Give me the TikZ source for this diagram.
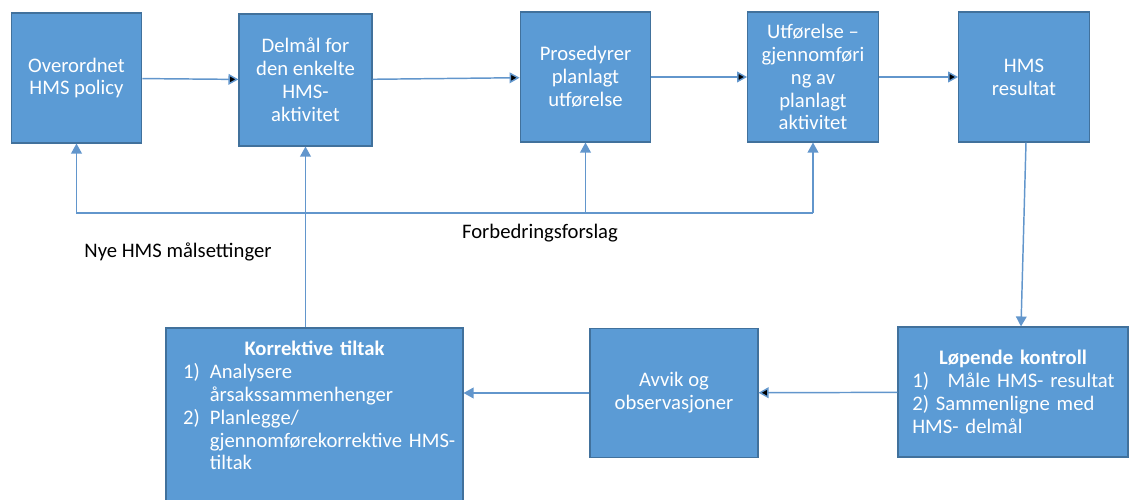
\documentclass[tikz,border=0pt]{standalone}
\usepackage{fontspec}
\setmainfont{Carlito}
\usetikzlibrary{arrows.meta,positioning}
\definecolor{boxfill}{HTML}{5B9BD5}
\definecolor{boxline}{HTML}{41719C}
\definecolor{linkcol}{HTML}{6296CC}

\begin{document}
\begin{tikzpicture}[x=0.75pt,y=-0.75pt,
	box/.style={draw=boxline,line width=0.8pt,fill=boxfill,text=white,align=center,inner sep=2pt,font=\fontsize{15.5}{17.2}\selectfont},
	topbox/.style={box,minimum width=98pt,minimum height=97.5pt},
	arr/.style={draw=linkcol,line width=1.1pt,-{Triangle[length=7.5pt,width=8pt]}},
	lbl/.style={font=\fontsize{15.5}{17.2}\selectfont}]
	\useasboundingbox (0,0) rectangle (1129,500);
	
	\node[topbox] (1) at (76.5,78) {Overordnet\\HMS policy};
	\node[topbox,minimum width=99.75pt,minimum height=99pt] (2) at (305.5,80) {Delmål for\\den enkelte\\HMS-\\aktivitet};
	\node[topbox] (3) at (585.5,77) {Prosedyrer\\planlagt\\utførelse};
	\node[topbox] (4) at (813,77) {Utførelse –\\gjennomføri\\ng av\\planlagt\\aktivitet};
	\node[topbox] (5) at (1024,77) {HMS\\resultat};
	\node[box,minimum width=172.5pt,minimum height=97.5pt,text width=151pt,align=left] (6) at (1013,392) {\makebox[151pt][c]{\textbf{Løpende kontroll}}\\\mbox{1)\hspace{14pt}Måle HMS- resultat}\\2) Sammenligne med\\HMS- delmål};
	\node[box,minimum width=126pt,minimum height=96.75pt] (7) at (674,393) {Avvik og\\observasjoner};
	\node[box,minimum width=222.75pt,minimum height=131.25pt,text width=197pt,align=left] (8) at (314.5,415.5) {\makebox[197pt][c]{\textbf{Korrektive tiltak}}\\\makebox[20pt][l]{1)}Analysere\\\hspace*{20pt}årsakssammenhenger\\\makebox[20pt][l]{2)}Planlegge/\\\hspace*{20pt}\mbox{gjennomførekorrektive HMS-}\\\hspace*{20pt}tiltak\\[-2pt]\mbox{}};
	
	\node[lbl] (nye) at (178,252) {Nye HMS målsettinger};
	\node[lbl] (forb) at (540,233) {Forbedringsforslag};
	
	\coordinate (fb) at (0,213);
	
	\path[arr]
	(1) edge (2)
	(2) edge (3)
	(3) edge (4)
	(4) edge (5)
	(6) edge (7);
	\draw[arr] ([xshift=1.5pt]5.south) -- ([xshift=6pt]6.north);
	\draw[arr] (7.west) -- (7.west -| 8.east);
	\draw[arr] (8.north -| 2.south) -- (2.south);
	\draw[arr] (fb -| 4) -| (1);
	\draw[arr] (fb -| 3) -- (3);
	\draw[arr] (fb -| 4) -- (4);
\end{tikzpicture}
\end{document}
